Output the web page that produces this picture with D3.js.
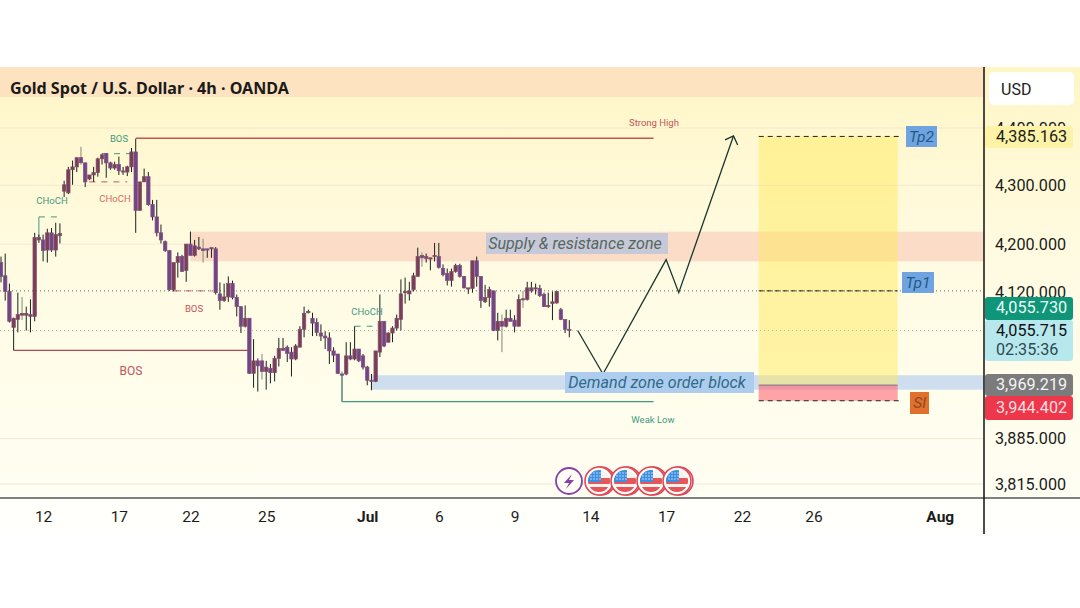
<!DOCTYPE html>
<html>
<head>
<meta charset="utf-8">
<script src="https://cdn.jsdelivr.net/npm/d3@7"></script>
<style>
  body { margin: 0; background: #fff; }
  svg { display: block; font-family: Roboto, sans-serif; }
</style>
</head>
<body>
<div id="chart"></div>
<script>
// Candles, one per 4h bar
var opens = [4169,4147,4121,4062,4075,4082,4082,4083,4080,4207,4207,4190,4219,4190,4214,4290,4287,4327,4332,4348,4339,4311,4318,4322,4346,4355,4339,4330,4336,4325,4323,4332,4358,4257,4306,4315,4267,4246,4219,4204,4189,4124,4169,4179,4156,4200,4181,4195,4192,4192,4192,4192,4117,4106,4112,4134,4111,4096,4064,4077,3988,4008,4008,3991,3996,3989,4012,4028,4030,4022,4011,4030,4059,4086,4077,4070,4053,4048,4045,4024,4019,3987,3987,4016,4011,4027,4016,3998,3977,3975,4022,4072,4038,4053,4061,4075,4119,4117,4124,4146,4181,4179,4176,4179,4179,4159,4151,4139,4154,4164,4146,4127,4126,4172,4146,4104,4111,4122,4057,4072,4064,4077,4074,4064,4108,4108,4127,4126,4126,4116,4098,4101,4102,4091,4075,4059];
var highs = [4179,4184,4134,4078,4119,4112,4096,4108,4219,4216,4216,4226,4227,4236,4235,4308,4332,4343,4348,4367,4339,4318,4332,4348,4355,4355,4341,4341,4350,4332,4334,4365,4381,4306,4329,4323,4275,4275,4233,4206,4189,4169,4186,4182,4200,4221,4207,4212,4209,4192,4194,4195,4136,4134,4146,4139,4116,4096,4098,4077,4043,4012,4019,4008,4003,4016,4045,4045,4033,4030,4035,4064,4096,4091,4086,4077,4067,4056,4054,4030,4019,3991,4038,4038,4064,4027,4019,4000,3987,4024,4116,4072,4054,4064,4083,4141,4144,4137,4152,4194,4186,4184,4177,4202,4202,4166,4159,4159,4167,4167,4146,4127,4172,4179,4146,4132,4129,4122,4086,4083,4091,4091,4082,4116,4122,4137,4137,4134,4132,4119,4119,4121,4121,4094,4075,4074];
var lows = [4136,4106,4070,4025,4054,4074,4057,4054,4072,4202,4171,4169,4187,4179,4201,4280,4285,4301,4323,4336,4297,4309,4306,4315,4336,4313,4327,4327,4318,4318,4316,4323,4219,4257,4306,4265,4240,4213,4201,4187,4122,4121,4144,4154,4137,4181,4179,4190,4169,4177,4177,4116,4091,4104,4104,4108,4080,4053,4062,3987,3965,3959,3978,3962,3972,3975,3999,4024,4006,3983,4009,4030,4046,4085,4048,4048,4040,4027,4003,4006,3987,3943,3985,4009,4009,4006,3994,3969,3961,3974,4014,4030,4038,4038,4057,4057,4101,4106,4121,4146,4162,4169,4156,4171,4159,4146,4131,4129,4152,4144,4126,4117,4119,4129,4094,4102,4096,4056,4041,4022,4062,4072,4054,4064,4094,4106,4119,4116,4112,4096,4094,4074,4101,4074,4053,4046];
var closes = [4146,4121,4072,4077,4083,4085,4085,4080,4211,4211,4189,4219,4190,4216,4218,4301,4327,4332,4348,4339,4306,4318,4322,4346,4353,4339,4330,4336,4325,4323,4332,4358,4257,4306,4315,4267,4246,4219,4207,4189,4124,4169,4179,4154,4200,4181,4197,4192,4189,4190,4194,4119,4106,4112,4134,4111,4096,4064,4077,3988,4008,4000,3991,3998,3989,4012,4028,4025,4020,4011,4032,4059,4085,4088,4069,4054,4048,4045,4024,4017,3988,3985,4016,4011,4027,4008,3998,3977,3975,4024,4072,4032,4053,4061,4077,4117,4121,4122,4147,4179,4177,4176,4177,4181,4161,4149,4139,4154,4164,4146,4127,4126,4172,4146,4106,4111,4124,4057,4072,4064,4077,4072,4064,4108,4109,4127,4122,4127,4114,4096,4096,4104,4121,4075,4059,4057];

// Axis ticks
var priceTicks = [4400, 4300, 4200, 4120, 3885, 3815];
var dateTickBars = [10, 28, 45, 63, 87, 104, 122, 140, 158, 176, 193, 223];
var dateTickLabels = ["12", "17", "22", "25", "Jul", "6", "9", "14", "17", "22", "26", "Aug"];

// Levels and drawings, in bars and prices
var supplyZone = {bar: 45, top: 4221, bottom: 4171};
var demandZone = {bar: 88, top: 3985, bottom: 3962};
var position = {barStart: 180, barEnd: 213, target: 4385.163, entry: 3969.219, stop: 3944.402, tp1: 4122};
var projectionBars = [137, 143, 158, 161, 174];
var projectionPrices = [4057, 3987, 4174, 4119, 4386];
var arrowBars = [172, 174, 175];
var arrowPrices = [4379, 4386, 4370];

var width = 1080, height = 608;
var plotTop = 67, plotBottom = 498, axisBottom = 534, axisX = 984;

var x = d3.scaleLinear().domain([0, 135]).range([1, 569.3]);
var y = d3.scaleLog().domain([4400, 3815]).range([128, 484]);

var svg = d3.select("#chart").append("svg")
  .attr("width", width)
  .attr("height", height);

// Background gradient
var grad = svg.append("defs").append("linearGradient")
  .attr("id", "bg").attr("x1", 0).attr("x2", 0).attr("y1", 0).attr("y2", 1);
grad.append("stop").attr("offset", "0%").attr("stop-color", "#fff6c6");
grad.append("stop").attr("offset", "45%").attr("stop-color", "#fffbe2");
grad.append("stop").attr("offset", "100%").attr("stop-color", "#fffef3");

svg.append("rect")
  .attr("x", 0).attr("y", plotTop)
  .attr("width", width).attr("height", plotBottom - plotTop)
  .attr("fill", "url(#bg)");
svg.append("rect")
  .attr("x", 0).attr("y", plotBottom)
  .attr("width", width).attr("height", axisBottom - plotBottom)
  .attr("fill", "#fffffb");

// Header band
svg.append("rect")
  .attr("x", 0).attr("y", plotTop)
  .attr("width", axisX).attr("height", 30)
  .attr("fill", "#fde3c0");

// Grid lines
svg.append("g").selectAll("line")
  .data(priceTicks.filter(d => d != 4120))
  .enter().append("line")
    .attr("x1", 0).attr("x2", axisX)
    .attr("y1", d => y(d)).attr("y2", d => y(d))
    .attr("stroke", "#f0e9d2")
    .attr("stroke-width", 1);

// Zones
svg.append("rect")
  .attr("x", x(supplyZone.bar)).attr("y", y(supplyZone.top))
  .attr("width", axisX - x(supplyZone.bar)).attr("height", y(supplyZone.bottom) - y(supplyZone.top))
  .attr("fill", "#fbdcc6");
svg.append("rect")
  .attr("x", x(demandZone.bar)).attr("y", y(demandZone.top))
  .attr("width", axisX - x(demandZone.bar)).attr("height", y(demandZone.bottom) - y(demandZone.top))
  .attr("fill", "#cfdeee");

// Long position box, see-through so the zones show
svg.append("rect")
  .attr("x", x(position.barStart)).attr("y", y(position.target))
  .attr("width", x(position.barEnd) - x(position.barStart)).attr("height", y(position.entry) - y(position.target))
  .attr("fill", "#ffe94f").attr("fill-opacity", 0.45);
svg.append("rect")
  .attr("x", x(position.barStart)).attr("y", y(position.entry))
  .attr("width", x(position.barEnd) - x(position.barStart)).attr("height", y(position.stop) - y(position.entry))
  .attr("fill", "#ff6878").attr("fill-opacity", 0.6);
svg.append("line")
  .attr("x1", x(position.barStart)).attr("x2", x(position.barEnd))
  .attr("y1", y(position.entry)).attr("y2", y(position.entry))
  .attr("stroke", "#8a6a7a");

// Dashed levels of the position
[position.target, position.stop].forEach(function(p) {
  svg.append("line")
    .attr("x1", x(position.barStart)).attr("x2", x(position.barEnd) + 2)
    .attr("y1", y(p)).attr("y2", y(p))
    .attr("stroke", "#222")
    .attr("stroke-dasharray", "5,4");
});

// Dotted price lines
svg.append("line")
  .attr("x1", 0).attr("x2", axisX)
  .attr("y1", y(position.tp1)).attr("y2", y(position.tp1))
  .attr("stroke", "#6a6a60")
  .attr("stroke-dasharray", "1,3");
svg.append("line")
  .attr("x1", x(position.barStart)).attr("x2", x(position.barEnd))
  .attr("y1", y(position.tp1)).attr("y2", y(position.tp1))
  .attr("stroke", "#222")
  .attr("stroke-dasharray", "5,3");
svg.append("line")
  .attr("x1", 0).attr("x2", axisX)
  .attr("y1", y(closes[135])).attr("y2", y(closes[135]))
  .attr("stroke", "#bdb9a8")
  .attr("stroke-dasharray", "1,3");

// Structure lines
var red = "#c2545c", green = "#3f9a80";
function level(b1, b2, price, color, dash) {
  svg.append("line")
    .attr("x1", x(b1)).attr("x2", x(b2))
    .attr("y1", y(price)).attr("y2", y(price))
    .attr("stroke", color)
    .attr("stroke-width", dash ? 1 : 1.3)
    .attr("stroke-dasharray", dash ? "6,6" : null);
}
level(32, 155, 4382, red);
level(3, 59, 4025, "#a94a55");
level(81, 155, 3943, green);
level(9, 14, 4246, green, true);
level(24, 31, 4355, green, true);
level(21, 30, 4306, red, true);
level(41, 50, 4122, red, true);
level(84, 90, 4064, green, true);
svg.append("line")
  .attr("x1", x(81)).attr("x2", x(81))
  .attr("y1", y(3985)).attr("y2", y(3943))
  .attr("stroke", green).attr("stroke-width", 1.3);
svg.append("line")
  .attr("x1", x(9)).attr("x2", x(9))
  .attr("y1", y(4246)).attr("y2", y(4211))
  .attr("stroke", green).attr("stroke-width", 1);

// Candles
var greyWicks = [5, 19, 48, 62, 81, 100, 119, 124];
var bars = d3.range(opens.length);
var candles = svg.append("g").selectAll("g")
  .data(bars)
  .enter().append("g");
candles.append("line")
  .attr("x1", i => x(i)).attr("x2", i => x(i))
  .attr("y1", i => y(highs[i])).attr("y2", i => y(lows[i]))
  .attr("stroke", i => greyWicks.includes(i) ? "#7f8a78" : "#16241c")
  .attr("stroke-width", 1);
candles.append("rect")
  .attr("x", i => x(i) - 1.7)
  .attr("width", 3.4)
  .attr("y", i => y(Math.max(opens[i], closes[i])))
  .attr("height", i => Math.max(1.2, Math.abs(y(opens[i]) - y(closes[i]))))
  .attr("fill", i => closes[i] >= opens[i] ? "#7b3c60" : "#6f4590")
  .attr("stroke", i => closes[i] >= opens[i] ? "#7d5560" : "#85506e")
  .attr("stroke-width", 0.7);

// Projected path
var pathLine = d3.line().x(d => x(d[0])).y(d => y(d[1]));
svg.append("path")
  .attr("d", pathLine(d3.zip(projectionBars, projectionPrices)))
  .attr("fill", "none")
  .attr("stroke", "#17382c")
  .attr("stroke-width", 1.3);
svg.append("path")
  .attr("d", pathLine(d3.zip(arrowBars, arrowPrices)))
  .attr("fill", "none")
  .attr("stroke", "#17382c")
  .attr("stroke-width", 1.3);

// Small texts
function label(tx, ty, str, size, color, extra) {
  return svg.append("text")
    .attr("x", tx).attr("y", ty)
    .attr("text-anchor", "middle")
    .attr("dominant-baseline", "central")
    .style("font-size", size + "px")
    .attr("fill", color)
    .style("font-style", extra || null)
    .text(str);
}
label(119, 138, "BOS", 9.5, green);
label(52, 200, "CHoCH", 9.5, green);
label(115, 198, "CHoCH", 9.5, "#cf6e66");
label(194, 308, "BOS", 9.5, red);
label(131, 371, "BOS", 12, red);
label(367, 311, "CHoCH", 9.5, green);
label(654, 122, "Strong High", 9.5, red);
label(653, 419, "Weak Low", 9.5, green);

// Boxed notes
function note(bx, by, bw, bh, str, fill, color, size, dx) {
  svg.append("rect")
    .attr("x", bx).attr("y", by)
    .attr("width", bw).attr("height", bh)
    .attr("fill", fill);
  label(bx + bw / 2 + (dx || 0), by + bh / 2, str, size, color, "italic");
}
note(486, 233, 182, 21, "Supply & resistance zone", "#c8c9d8", "#55675f", 16.1, -2);
note(565, 372, 189, 21, "Demand zone order block", "#aecdee", "#2f6a88", 16.1, -2.5);
note(906, 126, 31, 21, "Tp2", "#6fa3e2", "#1f5c80", 15.5);
note(902, 272, 32, 21, "Tp1", "#6fa3e2", "#1f5c80", 15.5);
note(910, 392, 19, 22, "Sl", "#e0702c", "#8a4a22", 15.5);

// Event icons
var flagCenters = [599, 625, 651, 677];
var iconY = 481;
svg.append("circle")
  .attr("cx", 569).attr("cy", iconY).attr("r", 13)
  .attr("fill", "#fffef6").attr("stroke", "#8a3fa6").attr("stroke-width", 1.8);
svg.append("path")
  .attr("d", "M572,474 L564,483 L569,483 L566,489 L574,480 L569,480 Z")
  .attr("fill", "#8a3fa6");
var defs = svg.select("defs");
flagCenters.forEach(function(cx, i) {
  defs.append("clipPath").attr("id", "flag" + i)
    .append("circle").attr("cx", cx).attr("cy", iconY).attr("r", 11);
  svg.append("circle")
    .attr("cx", cx + 2).attr("cy", iconY).attr("r", 14)
    .attr("fill", "#fffef6").attr("stroke", "#e0485a").attr("stroke-width", 1.6);
  svg.append("circle")
    .attr("cx", cx).attr("cy", iconY).attr("r", 14)
    .attr("fill", "#fffef6").attr("stroke", "#e0485a").attr("stroke-width", 1.6);
  var g = svg.append("g").attr("clip-path", "url(#flag" + i + ")");
  g.append("rect").attr("x", cx - 11).attr("y", iconY - 11).attr("width", 22).attr("height", 22).attr("fill", "#f6f2ee");
  g.append("rect").attr("x", cx - 11).attr("y", iconY - 3).attr("width", 22).attr("height", 6).attr("fill", "#e4565a");
  g.append("rect").attr("x", cx - 11).attr("y", iconY + 6).attr("width", 22).attr("height", 5).attr("fill", "#e4565a");
  g.append("rect").attr("x", cx - 11).attr("y", iconY - 11).attr("width", 13).attr("height", 12).attr("fill", "#3d8fe0");
  d3.range(3).forEach(function(row) {
    d3.range(4).forEach(function(col) {
      g.append("circle")
        .attr("cx", cx - 8 + col * 3).attr("cy", iconY - 8 + row * 3).attr("r", 0.7)
        .attr("fill", "#e8f2ff");
    });
  });
});

// Frame lines
svg.append("line")
  .attr("x1", 0).attr("x2", width)
  .attr("y1", plotBottom).attr("y2", plotBottom)
  .attr("stroke", "#555").attr("stroke-width", 1.5);

// Axes
var yAxis = svg.append("g")
  .attr("transform", `translate(${axisX},0)`)
  .call(d3.axisRight(y).tickValues(priceTicks).tickFormat(d3.format(",.3f")).tickSize(0).tickPadding(11));
yAxis.select(".domain").remove();
yAxis.selectAll("text")
  .style("font-size", "16.2px")
  .style("font-family", "Roboto, sans-serif")
  .attr("fill", "#1c1c1c");

var xAxis = svg.append("g")
  .attr("transform", `translate(0,${plotBottom})`)
  .call(d3.axisBottom(x).tickValues(dateTickBars)
    .tickFormat((d, i) => dateTickLabels[i]).tickSize(0).tickPadding(13));
xAxis.select(".domain").remove();
xAxis.selectAll("text")
  .style("font-size", "15.5px")
  .style("font-family", "Roboto, sans-serif")
  .style("font-weight", (d, i) => (dateTickLabels[i] == "Jul" || dateTickLabels[i] == "Aug") ? "700" : "400")
  .attr("fill", "#1c1c1c");

svg.append("line")
  .attr("x1", axisX).attr("x2", axisX)
  .attr("y1", plotTop).attr("y2", axisBottom)
  .attr("stroke", "#111").attr("stroke-width", 1.5);

// Title
svg.append("text")
  .attr("x", 10).attr("y", 88)
  .attr("dominant-baseline", "central")
  .style("font-family", "'Noto Sans', sans-serif")
  .style("font-size", "16.1px")
  .style("font-weight", "700")
  .attr("fill", "#1a1a1a")
  .text("Gold Spot / U.S. Dollar · 4h · OANDA");

// Currency box
svg.append("rect")
  .attr("x", 989).attr("y", 72)
  .attr("width", 85).attr("height", 33).attr("rx", 5)
  .attr("fill", "#fff");
svg.append("text")
  .attr("x", 1001).attr("y", 89)
  .attr("dominant-baseline", "central")
  .style("font-size", "16px")
  .attr("fill", "#222")
  .text("USD");

// Price tags
function tag(ty, th, fill, lines) {
  svg.append("rect")
    .attr("x", axisX + 1).attr("y", ty)
    .attr("width", 88).attr("height", th).attr("rx", 3)
    .attr("fill", fill);
  lines.forEach(function(l) {
    svg.append("text")
      .attr("x", 996).attr("y", l.y)
      .attr("dominant-baseline", "central")
      .style("font-size", "16.2px")
      .attr("fill", l.color)
      .text(l.text);
  });
}
tag(126, 22, "#fdf3a6", [{y: 136, text: "4,385.163", color: "#1c1c1c"}]);
tag(297, 23, "#0f9577", [{y: 307, text: "4,055.730", color: "#eafff8"}]);
tag(320, 41, "#b6e8ee", [{y: 330, text: "4,055.715", color: "#111"}, {y: 349, text: "02:35:36", color: "#2f4a50"}]);
tag(374, 22, "#7b7b7b", [{y: 384, text: "3,969.219", color: "#f4f4f4"}]);
tag(396, 24, "#ee374b", [{y: 407, text: "3,944.402", color: "#ffdfe0"}]);
</script>
</body>
</html>
